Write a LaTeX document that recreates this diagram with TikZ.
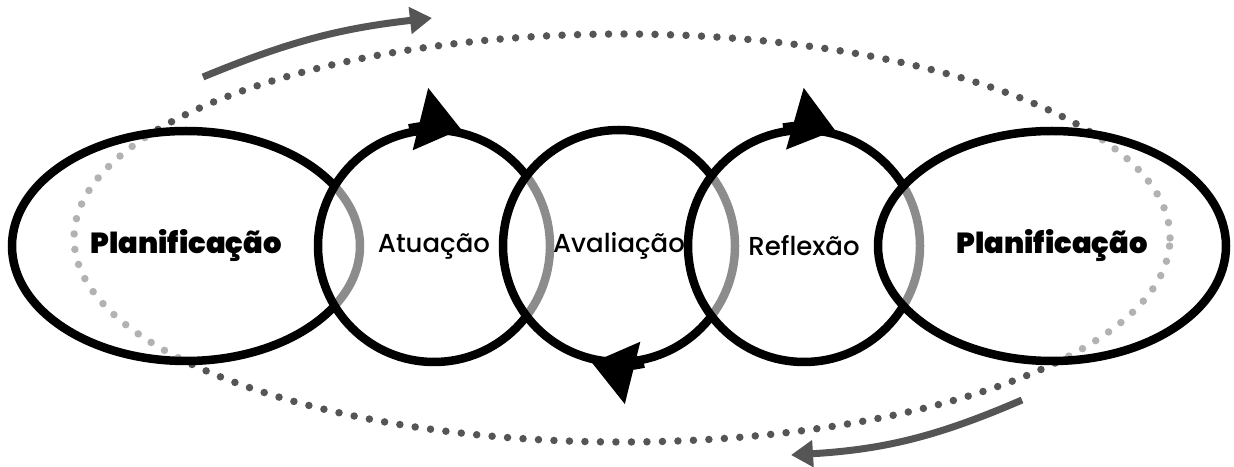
\documentclass[tikz,border=0pt]{standalone}
\usepackage{fontspec}
\newfontfamily\labelfont{Poppins Medium}
\newfontfamily\heavyfont{Poppins Black}
\usepackage{tikz}
\usetikzlibrary{positioning,shapes.geometric,arrows.meta}
\definecolor{loopgray}{HTML}{555555}

\begin{document}
\begin{tikzpicture}[x=1pt, y=1pt,
	stage/.style={draw=black, line width=8.5pt, fill=white, fill opacity=0.55, text opacity=1, font=\labelfont\fontsize{26}{30}\selectfont},
	plan/.style={stage, ellipse, minimum width=348pt, minimum height=230pt, font=\heavyfont\fontsize{29}{32}\selectfont},
	turn/.style={stage, circle, minimum size=232pt},
	spin/.style={line width=8.5pt, -{Triangle[length=42pt,width=62pt]}},
	loopline/.style={loopgray, line width=7.5pt, line cap=round, dash pattern=on 0pt off 15.5pt},
	flow/.style={loopgray, line width=7pt, -{Triangle[length=22pt,width=26pt]}}]
\useasboundingbox (0,0) rectangle (1234,466);

% outer cycle
\draw[loopline] (622,228) ellipse [x radius=548, y radius=204];

\node[plan] (plan1) at (186,220) {Planificação};
\node[turn] (atua) at (434,220) {Atuação};
\node[turn] (aval) at (619,220) {Avaliação};
\node[turn] (refl) at (804,220) {Reflexão};
\node[plan] (plan2) at (1052,220) {Planificação};

\draw[spin] (atua.102) arc[start angle=102, end angle=76, radius=116];
\draw[spin] (aval.282) arc[start angle=282, end angle=256, radius=116];
\draw[spin] (refl.100) arc[start angle=100, end angle=74, radius=116];

\coordinate (upfrom) at (203,389);
\coordinate (upto) at (432,448);
\coordinate (downfrom) at (1022,66);
\coordinate (downto) at (791,11);
\draw[flow] (upfrom) to[bend left=8] (upto);
\draw[flow] (downfrom) to[bend left=10] (downto);
\end{tikzpicture}
\end{document}
